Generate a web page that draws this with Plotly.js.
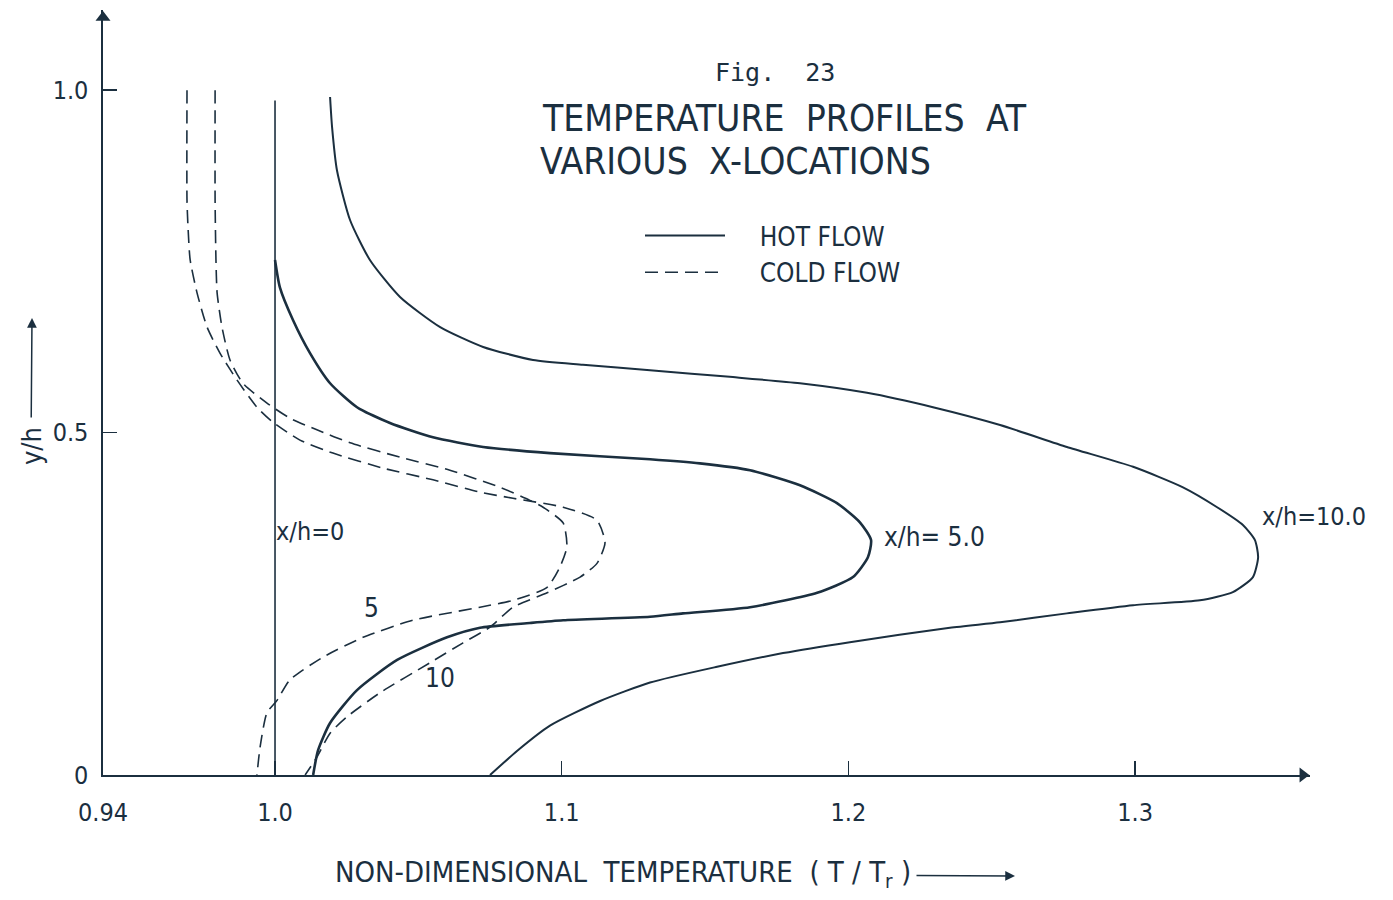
<!DOCTYPE html>
<html>
<head>
<meta charset="utf-8">
<script src="https://cdn.plot.ly/plotly-3.0.1.min.js"></script>
<style>html,body{margin:0;padding:0;background:#fff;}#chart{width:1393px;height:900px;}</style>
</head>
<body>
<div id="chart"></div>
<script>
// ---- data (T/Tr vs y/h) ----
const hot0_T = [1.0, 1.0];
const hot0_y = [0.0, 0.985];

const hot5_T = [1.0, 1.0017, 1.0063, 1.0122, 1.0192, 1.0286, 1.0401, 1.0551, 1.0726, 1.0959, 1.1308, 1.1482, 1.1657, 1.1831, 1.1960, 1.2040, 1.2079, 1.2068, 1.2016, 1.1891, 1.1657, 1.1423, 1.1308, 1.1005, 1.0889, 1.0715, 1.0600, 1.0426, 1.0286, 1.0192, 1.0150, 1.0133];
const hot5_y = [0.752, 0.712, 0.664, 0.616, 0.572, 0.537, 0.514, 0.493, 0.479, 0.470, 0.461, 0.455, 0.445, 0.423, 0.397, 0.369, 0.343, 0.318, 0.289, 0.266, 0.245, 0.236, 0.231, 0.226, 0.222, 0.215, 0.201, 0.168, 0.124, 0.076, 0.036, 0.0];

const hot10_T = [1.0192, 1.0199, 1.0216, 1.0262, 1.0331, 1.0436, 1.0576, 1.0726, 1.0900, 1.1074, 1.1308, 1.1597, 1.1831, 1.2065, 1.2295, 1.2529, 1.2762, 1.2993, 1.3167, 1.3286, 1.3376, 1.3418, 1.3429, 1.3411, 1.3341, 1.3226, 1.2993, 1.2762, 1.2529, 1.2354, 1.2005, 1.1772, 1.1542, 1.1308, 1.1134, 1.0959, 1.0844, 1.0750];
const hot10_y = [0.990, 0.946, 0.883, 0.810, 0.752, 0.698, 0.654, 0.625, 0.606, 0.599, 0.591, 0.581, 0.572, 0.558, 0.537, 0.511, 0.479, 0.450, 0.420, 0.391, 0.365, 0.343, 0.318, 0.289, 0.267, 0.255, 0.248, 0.236, 0.223, 0.215, 0.194, 0.178, 0.158, 0.135, 0.108, 0.072, 0.035, 0.0];

const cold5_T = [0.9791, 0.9791, 0.9794, 0.9798, 0.9815, 0.9843, 0.9888, 0.9972, 1.0052, 1.0146, 1.0262, 1.0436, 1.0610, 1.0785, 1.0889, 1.0935, 1.1005, 1.1018, 1.0994, 1.0949, 1.0830, 1.0715, 1.0481, 1.0307, 1.0167, 1.0052, 1.0007, 0.9972, 0.9948, 0.9937];
const cold5_y = [1.0, 0.839, 0.752, 0.704, 0.654, 0.606, 0.572, 0.543, 0.521, 0.504, 0.485, 0.464, 0.445, 0.420, 0.401, 0.391, 0.368, 0.333, 0.304, 0.274, 0.255, 0.245, 0.226, 0.201, 0.172, 0.139, 0.109, 0.091, 0.041, 0.0];

const cold10_T = [0.9693, 0.9693, 0.9697, 0.9704, 0.9728, 0.9763, 0.9808, 0.9867, 0.9937, 0.9993, 1.0087, 1.0202, 1.0377, 1.0551, 1.0715, 1.0830, 1.1005, 1.1123, 1.1151, 1.1123, 1.1064, 1.0949, 1.0830, 1.0750, 1.0656, 1.0541, 1.0366, 1.0251, 1.0192, 1.0146, 1.0105];
const cold10_y = [1.0, 0.839, 0.796, 0.752, 0.704, 0.654, 0.616, 0.577, 0.537, 0.515, 0.489, 0.470, 0.448, 0.431, 0.413, 0.404, 0.391, 0.372, 0.339, 0.309, 0.289, 0.266, 0.245, 0.216, 0.193, 0.164, 0.120, 0.085, 0.061, 0.026, 0.0];

const xTickVals = [0.94, 1.0, 1.1, 1.2, 1.3];
const xTickText = ["0.94", "1.0", "1.1", "1.2", "1.3"];
const yTickVals = [0, 0.5, 1.0];
const yTickText = ["0", "0.5", "1.0"];

const legendNames = ["HOT FLOW", "COLD FLOW"];
const curveLabels = ["x/h=0", "x/h= 5.0", "x/h=10.0", "5", "10"];

// ---- styling ----
const INK = "#1b2f3f";
const FONT = "DejaVu Sans Condensed, Liberation Sans, sans-serif";
const DASH = "13px,7px";
const NB = "\u00a0\u00a0\u00a0\u00a0";

function line(x, y, opts) {
  return Object.assign({
    type: "scatter", mode: "lines", x: x, y: y,
    line: {color: INK, width: 2, shape: "spline", smoothing: 0.6},
    hoverinfo: "skip", showlegend: false
  }, opts);
}

const XMIN = 0.94, XMAX = 1.361, YMIN = 0, YMAX = 1.117;
const px2x = p => (p - 103) / 1207;
const py2y = p => (775 - p) / 765;

const traces = [
  line(hot0_T, hot0_y, {line: {color: INK, width: 1.6}}),
  line(hot5_T, hot5_y, {line: {color: INK, width: 2.6, shape: "spline", smoothing: 0.6}}),
  line(hot10_T, hot10_y, {name: NB + legendNames[0], showlegend: true, legendrank: 1}),
  line(cold5_T, cold5_y, {line: {color: INK, width: 1.6, dash: DASH, shape: "spline", smoothing: 0.6}}),
  line(cold10_T, cold10_y, {name: NB + legendNames[1], showlegend: true, legendrank: 2,
    line: {color: INK, width: 1.6, dash: DASH, shape: "spline", smoothing: 0.6}}),
  // arrowheads at the ends of the two axes
  {type: "scatter", mode: "markers", x: [XMAX - 0.0025, XMIN], y: [YMIN, YMAX - 0.011],
   marker: {symbol: ["triangle-right", "triangle-up"], size: 13, color: INK, line: {width: 0}},
   cliponaxis: false, hoverinfo: "skip", showlegend: false}
];

const annotations = [
  // titles
  {text: "Fig.  23", xref: "paper", yref: "paper", x: px2x(713), y: py2y(72), xanchor: "left", yanchor: "middle",
   showarrow: false, font: {family: "DejaVu Sans Mono, Liberation Mono, monospace", size: 25, color: INK}},
  {text: "TEMPERATURE  PROFILES  AT", xref: "paper", yref: "paper",
   x: px2x(540), y: py2y(118), xanchor: "left", yanchor: "middle", showarrow: false,
   font: {family: FONT, size: 37, color: INK}},
  {text: "VARIOUS  X-LOCATIONS", xref: "paper", yref: "paper",
   x: px2x(538), y: py2y(162), xanchor: "left", yanchor: "middle", showarrow: false,
   font: {family: FONT, size: 37, color: INK}},
  // curve labels
  {text: curveLabels[0], x: 0.9995, y: 0.355, xanchor: "left", yanchor: "middle", showarrow: false,
   font: {family: FONT, size: 25, color: INK}},
  {text: curveLabels[1], x: 1.2117, y: 0.347, xanchor: "left", yanchor: "middle", showarrow: false,
   font: {family: FONT, size: 26, color: INK}},
  {text: curveLabels[2], x: 1.3436, y: 0.377, xanchor: "left", yanchor: "middle", showarrow: false,
   font: {family: FONT, size: 25, color: INK}},
  {text: curveLabels[3], x: 1.0338, y: 0.244, xanchor: "center", yanchor: "middle", showarrow: false,
   font: {family: FONT, size: 26, color: INK}},
  {text: curveLabels[4], x: 1.0576, y: 0.142, xanchor: "center", yanchor: "middle", showarrow: false,
   font: {family: FONT, size: 26, color: INK}},
  // axis titles, each with its trailing arrow
  {text: "NON-DIMENSIONAL  TEMPERATURE  ( T / T<sub>r</sub> )", xref: "paper", yref: "paper",
   axref: "paper", ayref: "paper",
   x: px2x(1015), y: py2y(876), ax: px2x(623), ay: py2y(874),
   showarrow: true, arrowhead: 2, arrowsize: 1.3, arrowwidth: 1.5, arrowcolor: INK, startstandoff: 4,
   font: {family: FONT, size: 29, color: INK}},
  {text: "y/h", xref: "paper", yref: "paper", axref: "paper", ayref: "paper",
   x: px2x(32), y: py2y(318), ax: px2x(31), ay: py2y(446), textangle: -90,
   showarrow: true, arrowhead: 2, arrowsize: 1.3, arrowwidth: 1.5, arrowcolor: INK, startstandoff: 8,
   font: {family: FONT, size: 27, color: INK}}
];

const layout = {
  width: 1393, height: 900,
  margin: {l: 103, r: 83, t: 10, b: 125},
  paper_bgcolor: "#ffffff", plot_bgcolor: "#ffffff",
  font: {family: FONT, color: INK, size: 24},
  showlegend: true,
  legend: {x: px2x(640), y: py2y(212), xanchor: "left", yanchor: "top",
    bgcolor: "rgba(0,0,0,0)", font: {family: FONT, size: 26, color: INK},
    itemwidth: 80, tracegroupgap: 0, traceorder: "normal"},
  xaxis: {range: [XMIN, XMAX], showgrid: false, zeroline: false, showline: true,
    linecolor: INK, linewidth: 1.6, ticks: "inside", ticklen: 14, tickwidth: 1.4, tickcolor: INK,
    tickvals: xTickVals, ticktext: xTickText, tickfont: {family: FONT, size: 25, color: INK},
    ticklabelstandoff: 14, fixedrange: true},
  yaxis: {range: [YMIN, YMAX], showgrid: false, zeroline: false, showline: true,
    linecolor: INK, linewidth: 1.6, ticks: "inside", ticklen: 14, tickwidth: 1.4, tickcolor: INK,
    tickvals: yTickVals, ticktext: yTickText, tickfont: {family: FONT, size: 25, color: INK},
    ticklabelstandoff: 8, fixedrange: true},
  annotations: annotations
};

Plotly.newPlot("chart", traces, layout, {displayModeBar: false, staticPlot: true});
</script>
</body>
</html>
